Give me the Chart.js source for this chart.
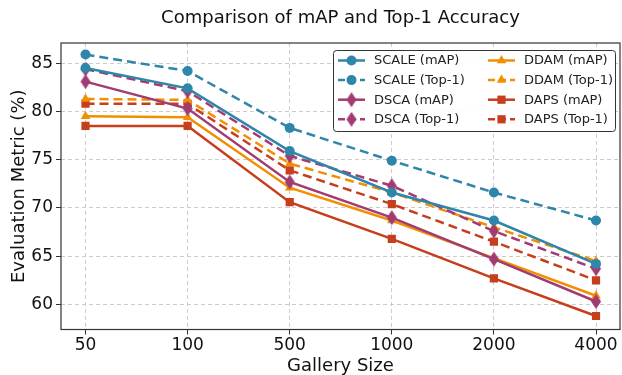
<!DOCTYPE html>
<html>
<head>
<meta charset="utf-8">
<script src="https://cdn.jsdelivr.net/npm/chart.js@4.4.0/dist/chart.umd.min.js"></script>
<style>
  html, body { margin: 0; padding: 0; background: #fff; }
  #wrap { width: 622px; height: 375px; }
</style>
</head>
<body>
<div id="wrap"><canvas id="chart" width="622" height="375"></canvas></div>
<script>
// Gallery sizes (x categories)
const gallerySizes = ['50', '100', '500', '1000', '2000', '4000'];
const yTicks = [60, 65, 70, 75, 80, 85];
const chartTitle = 'Comparison of mAP and Top-1 Accuracy';

// values
const scaleMap  = [84.5, 82.4, 75.9, 71.6, 68.7, 64.2];
const scaleTop1 = [85.9, 84.2, 78.3, 74.9, 71.6, 68.7];
const dscaMap   = [83.1, 80.3, 72.7, 69.0, 64.7, 60.3];
const dscaTop1  = [84.4, 82.1, 75.4, 72.3, 67.6, 63.7];
const ddamMap   = [79.5, 79.4, 72.1, 68.7, 64.8, 60.9];
const ddamTop1  = [81.3, 81.2, 74.6, 71.6, 68.0, 64.5];
const dapsMap   = [78.5, 78.5, 70.6, 66.8, 62.7, 58.8];
const dapsTop1  = [80.8, 80.8, 73.9, 70.4, 66.5, 62.5];

const COLORS = {
    SCALE: '#2E86AB',
    DSCA: '#A23B72',
    DDAM: '#F18F01',
    DAPS: '#C73E1D'
};

// thin diamond marker (matplotlib 'd')
function thinDiamond(color) {
    const c = document.createElement('canvas');
    c.width = 12; c.height = 15;
    const g = c.getContext('2d');
    g.fillStyle = color;
    g.beginPath();
    g.moveTo(6, 0);
    g.lineTo(11, 7.5);
    g.lineTo(6, 15);
    g.lineTo(1, 7.5);
    g.closePath();
    g.fill();
    return c;
}

function makeSet(label, data, color, style, radius, dashed) {
    return {
        label: label,
        data: data.map((v, i) => ({ x: i, y: v })),
        borderColor: color,
        backgroundColor: color,
        pointBackgroundColor: color,
        pointBorderColor: color,
        pointBorderWidth: 0,
        pointStyle: style,
        pointRadius: radius,
        borderWidth: 2.5,
        borderDash: dashed ? [9, 5] : [],
        tension: 0
    };
}

const dscaDiamond = thinDiamond(COLORS.DSCA);

const datasets = [
    makeSet('SCALE (mAP)', scaleMap, COLORS.SCALE, 'circle', 5, false),
    makeSet('SCALE (Top-1)', scaleTop1, COLORS.SCALE, 'circle', 5, true),
    makeSet('DSCA (mAP)', dscaMap, COLORS.DSCA, dscaDiamond, 6, false),
    makeSet('DSCA (Top-1)', dscaTop1, COLORS.DSCA, dscaDiamond, 6, true),
    makeSet('DDAM (mAP)', ddamMap, COLORS.DDAM, 'triangle', 5.5, false),
    makeSet('DDAM (Top-1)', ddamTop1, COLORS.DDAM, 'triangle', 5.5, true),
    makeSet('DAPS (mAP)', dapsMap, COLORS.DAPS, 'rect', 5.8, false),
    makeSet('DAPS (Top-1)', dapsTop1, COLORS.DAPS, 'rect', 5.8, true)
];

// frame, title (centred over the axes) + legend box in the upper right
const framePlugin = {
    id: 'frameAndLegend',
    afterDraw(chart) {
        const ctx = chart.ctx;
        const a = chart.chartArea;
        ctx.save();
        ctx.strokeStyle = '#333';
        ctx.lineWidth = 1.2;
        ctx.strokeRect(a.left, a.top, a.right - a.left, a.bottom - a.top);

        ctx.fillStyle = '#111';
        ctx.font = '18px "DejaVu Sans"';
        ctx.textAlign = 'center';
        ctx.textBaseline = 'middle';
        ctx.fillText(chartTitle, (a.left + a.right) / 2, 18);

        // legend
        const bx = 333, by = 50, bw = 282, bh = 81;
        ctx.fillStyle = 'rgba(255,255,255,0.9)';
        ctx.strokeStyle = '#333';
        ctx.lineWidth = 1;
        ctx.beginPath();
        ctx.roundRect(bx + 0.5, by + 0.5, bw, bh, 3);
        ctx.fill();
        ctx.stroke();

        ctx.font = '13px "DejaVu Sans"';
        ctx.textAlign = 'left';
        const rowH = 19.6;
        chart.data.datasets.forEach((ds, i) => {
            const col = Math.floor(i / 4);
            const row = i % 4;
            const x0 = col === 0 ? 338 : 488;
            const y = by + 10.5 + row * rowH;
            ctx.strokeStyle = ds.borderColor;
            ctx.lineWidth = 2.5;
            ctx.setLineDash(ds.borderDash.length ? [7, 4] : []);
            ctx.beginPath();
            ctx.moveTo(x0, y);
            ctx.lineTo(x0 + 27, y);
            ctx.stroke();
            ctx.setLineDash([]);
            ctx.fillStyle = ds.borderColor;
            Chart.helpers.drawPoint(ctx, {
                pointStyle: ds.pointStyle,
                radius: ds.pointRadius,
                rotation: 0,
                borderWidth: 0
            }, x0 + 13.5, y);
            ctx.fillStyle = '#222';
            ctx.fillText(ds.label, x0 + 36, y + 0.5);
        });
        ctx.restore();
    }
};

new Chart(document.getElementById('chart'), {
    type: 'line',
    data: { datasets: datasets },
    options: {
        responsive: false,
        animation: false,
        layout: { autoPadding: false, padding: { top: 43, right: 2, left: 0, bottom: 0 } },
        plugins: {
            legend: { display: false },
            tooltip: { enabled: false },
            title: { display: false }
        },
        scales: {
            x: {
                type: 'linear',
                min: -0.24,
                max: 5.235,
                afterBuildTicks: (scale) => {
                    scale.ticks = gallerySizes.map((_, i) => ({ value: i }));
                },
                afterFit: (scale) => { scale.height = 45.5; },
                ticks: {
                    color: '#111',
                    font: { family: 'DejaVu Sans', size: 17 },
                    padding: 1,
                    maxRotation: 0,
                    callback: (v) => gallerySizes[v]
                },
                grid: { color: '#ccc', tickColor: '#333', tickLength: 5 },
                border: { display: false, dash: [4, 3] },
                title: {
                    display: true,
                    text: 'Gallery Size',
                    color: '#111',
                    font: { family: 'DejaVu Sans', size: 18 },
                    padding: { top: 0, bottom: -2 }
                }
            },
            y: {
                min: 57.4,
                max: 87.1,
                afterBuildTicks: (scale) => {
                    scale.ticks = yTicks.map(v => ({ value: v }));
                },
                afterFit: (scale) => { scale.width = 61; },
                ticks: {
                    color: '#111',
                    font: { family: 'DejaVu Sans', size: 17 },
                    padding: 3
                },
                grid: { color: '#ccc', tickColor: '#333', tickLength: 5 },
                border: { display: false, dash: [4, 3] },
                title: {
                    display: true,
                    text: 'Evaluation Metric (%)',
                    color: '#111',
                    font: { family: 'DejaVu Sans', size: 18 },
                    padding: { top: 9, bottom: 0 }
                }
            }
        }
    },
    plugins: [framePlugin]
});
</script>
</body>
</html>
